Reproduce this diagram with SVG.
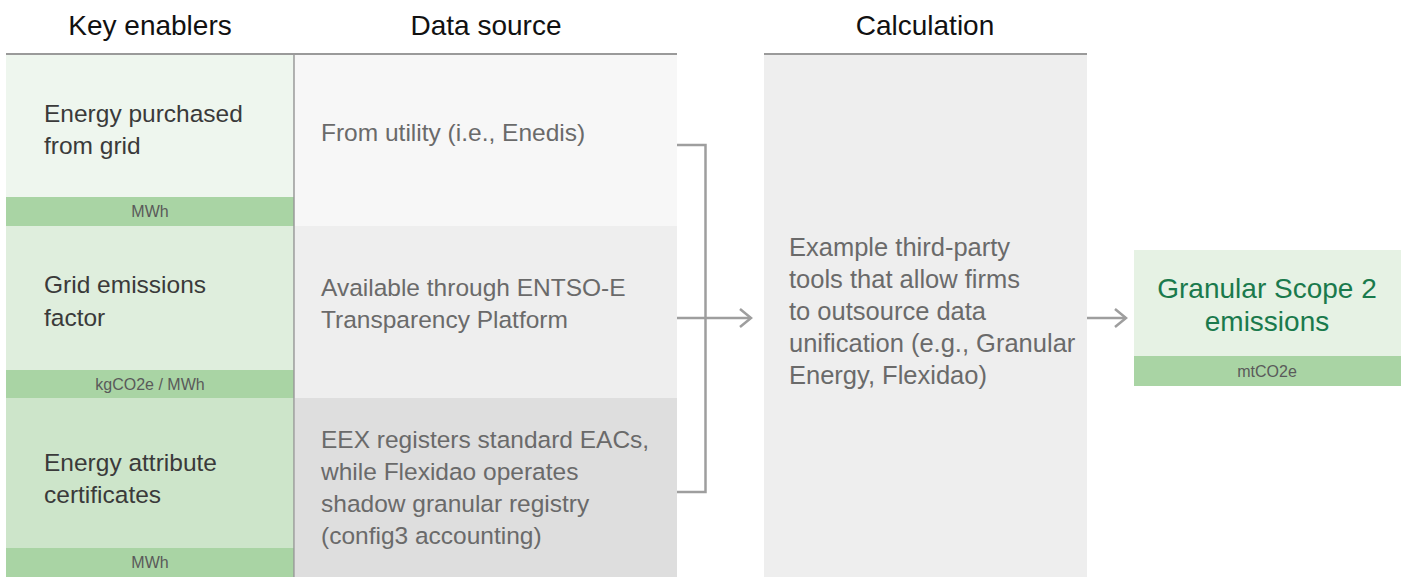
<svg xmlns="http://www.w3.org/2000/svg" width="1407" height="577" viewBox="0 0 1407 577">
  <defs>
    <style>
      text { font-family: "Liberation Sans", Arial, sans-serif; }
      .hdr { font-size: 28px; fill: #111; text-anchor: middle; }
      .key { font-size: 24.5px; fill: #3a3a3a; }
      .src { font-size: 24.5px; fill: #6a6a6a; }
      .calc { font-size: 25.5px; fill: #6a6a6a; }
      .unit { font-size: 16px; fill: #5a5a5a; text-anchor: middle; }
      .res { font-size: 28px; fill: #1a7a4c; text-anchor: middle; }
      .rule { stroke: #9a9a9a; stroke-width: 2; fill: none; }
      .conn { stroke: #9e9e9e; stroke-width: 2.5; fill: none; }
      .bar { fill: #a9d4a4; }
    </style>
    <marker id="chev" markerWidth="14" markerHeight="20" refX="12" refY="10" orient="auto" markerUnits="userSpaceOnUse">
      <path d="M1,1 L12,10 L1,19" fill="none" stroke="#9e9e9e" stroke-width="2.5"/>
    </marker>
  </defs>

  <!-- Column headers -->
  <g id="headers">
    <text class="hdr" x="150" y="35">Key enablers</text>
    <text class="hdr" x="486" y="35">Data source</text>
    <text class="hdr" x="925" y="35">Calculation</text>
    <line class="rule" x1="6" y1="54" x2="677" y2="54"/>
    <line class="rule" x1="764" y1="54" x2="1087" y2="54"/>
  </g>

  <!-- Key enabler: energy purchased -->
  <g id="enabler-energy">
    <rect x="6" y="55" width="288" height="142" fill="#eef6ee"/>
    <rect class="bar" x="6" y="197" width="288" height="29"/>
    <text class="key" x="44" y="122">Energy purchased</text>
    <text class="key" x="44" y="154">from grid</text>
    <text class="unit" x="150" y="217">MWh</text>
  </g>

  <!-- Key enabler: grid emissions factor -->
  <g id="enabler-factor">
    <rect x="6" y="226" width="288" height="144" fill="#dfeedd"/>
    <rect class="bar" x="6" y="370" width="288" height="28"/>
    <text class="key" x="44" y="293">Grid emissions</text>
    <text class="key" x="44" y="326">factor</text>
    <text class="unit" x="150" y="390">kgCO2e / MWh</text>
  </g>

  <!-- Key enabler: certificates -->
  <g id="enabler-eac">
    <rect x="6" y="398" width="288" height="150" fill="#cde5ca"/>
    <rect class="bar" x="6" y="548" width="288" height="29"/>
    <text class="key" x="44" y="471">Energy attribute</text>
    <text class="key" x="44" y="503">certificates</text>
    <text class="unit" x="150" y="568">MWh</text>
  </g>

  <!-- Data sources -->
  <g id="source-utility">
    <rect x="295" y="55" width="382" height="171" fill="#f7f7f7"/>
    <text class="src" x="321" y="141">From utility (i.e., Enedis)</text>
  </g>
  <g id="source-entsoe">
    <rect x="295" y="226" width="382" height="172" fill="#eeeeee"/>
    <text class="src" x="321" y="296">Available through ENTSO-E</text>
    <text class="src" x="321" y="328">Transparency Platform</text>
  </g>
  <g id="source-eex">
    <rect x="295" y="398" width="382" height="179" fill="#dedede"/>
    <text class="src" x="321" y="448">EEX registers standard EACs,</text>
    <text class="src" x="321" y="480">while Flexidao operates</text>
    <text class="src" x="321" y="512">shadow granular registry</text>
    <text class="src" x="321" y="544">(config3 accounting)</text>
  </g>

  <!-- Column divider -->
  <line id="divider" x1="294" y1="55" x2="294" y2="577" stroke="#999" stroke-width="1.5"/>

  <!-- Calculation -->
  <g id="calculation">
    <rect x="764" y="55" width="323" height="522" fill="#eeeeee"/>
    <text class="calc" x="789" y="256">Example third-party</text>
    <text class="calc" x="789" y="288">tools that allow firms</text>
    <text class="calc" x="789" y="320">to outsource data</text>
    <text class="calc" x="789" y="352">unification (e.g., Granular</text>
    <text class="calc" x="789" y="384">Energy, Flexidao)</text>
  </g>

  <!-- Result -->
  <g id="result">
    <rect x="1134" y="250" width="267" height="106" fill="#e6f2e4"/>
    <rect class="bar" x="1134" y="356" width="267" height="30"/>
    <text class="res" x="1267" y="298">Granular Scope 2</text>
    <text class="res" x="1267" y="331">emissions</text>
    <text class="unit" x="1267" y="377">mtCO2e</text>
  </g>

  <!-- Connectors -->
  <g id="connectors">
    <path class="conn" d="M677,145 H705.5 V492 H677"/>
    <line class="conn" x1="677" y1="318" x2="705.5" y2="318"/>
    <line class="conn" x1="705.5" y1="318" x2="751" y2="318" marker-end="url(#chev)"/>
    <line class="conn" x1="1087" y1="318" x2="1126" y2="318" marker-end="url(#chev)"/>
  </g>
</svg>
